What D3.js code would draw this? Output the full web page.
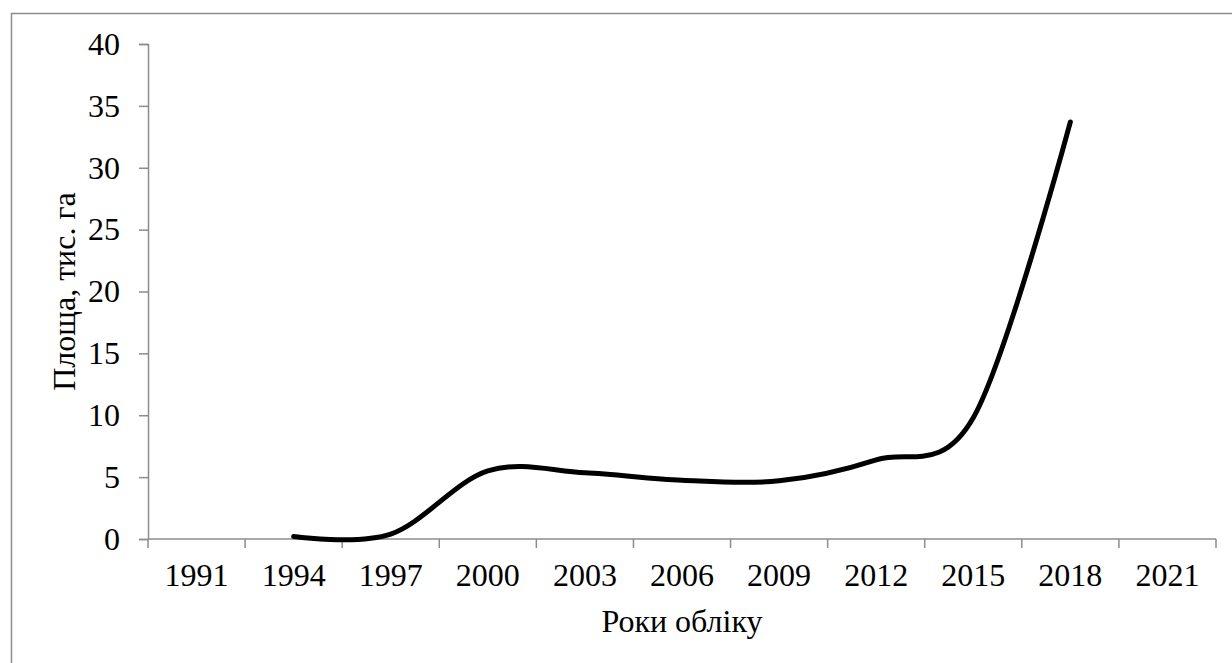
<!DOCTYPE html>
<html>
<head>
<meta charset="utf-8">
<script src="https://cdn.jsdelivr.net/npm/d3@7"></script>
<style>
html, body { margin: 0; padding: 0; background: #fff; }
svg { display: block; }
text { font-family: "Times New Roman", "Liberation Serif", serif; fill: #000; }
</style>
</head>
<body>
<svg id="chart" width="1232" height="663"></svg>
<script>
const categories = ["1991", "1994", "1997", "2000", "2003", "2006", "2009", "2012", "2015", "2018", "2021"];
const years = ["1994", "1997", "2000", "2003", "2006", "2009", "2012", "2015", "2018"];
const values = [0.2, 0.4, 5.5, 5.35, 4.75, 4.7, 6.4, 9.8, 33.7];
const yTicks = [0, 5, 10, 15, 20, 25, 30, 35, 40];
const yTitle = "Площа, тис. га";
const xTitle = "Роки обліку";

const svg = d3.select("#chart");
const W = 1232, H = 663;
const m = { left: 148, right: 1216, top: 44, bottom: 539 };

// outer chart border (cropped: only top and left visible)
svg.append("rect")
  .attr("x", 11.5).attr("y", 13.5)
  .attr("width", W + 20).attr("height", H + 20)
  .attr("fill", "none").attr("stroke", "#8c8c8c").attr("stroke-width", 1.5);

const x = d3.scaleBand().domain(categories).range([m.left, m.right]).padding(0);
const y = d3.scaleLinear().domain([0, 40]).range([m.bottom, m.top]);

const axisColor = "#8c8c8c";

// Y axis
const yAxis = svg.append("g")
  .attr("transform", `translate(${m.left},0)`)
  .call(d3.axisLeft(y).tickValues(yTicks).tickSize(9).tickPadding(19).tickFormat(d3.format("d")));
yAxis.selectAll("path, line").attr("stroke", axisColor).attr("stroke-width", 1.5);
yAxis.selectAll("text").style("font-size", "32px").attr("font-family", null).attr("fill", "#000");

// X axis: ticks at category boundaries, labels centered in categories
const xAxis = svg.append("g")
  .attr("transform", `translate(0,${m.bottom})`)
  .call(d3.axisBottom(x).tickSize(0).tickPadding(24));
xAxis.select("path.domain").attr("stroke", axisColor).attr("stroke-width", 1.5)
  .attr("d", `M${m.left},0H${m.right}`);
xAxis.selectAll("text").style("font-size", "32px").attr("font-family", null).attr("fill", "#000");

const bounds = categories.map(c => x(c)).concat([x(categories[categories.length - 1]) + x.bandwidth()]);
svg.append("g").selectAll("line").data(bounds).join("line")
  .attr("x1", d => d).attr("x2", d => d)
  .attr("y1", m.bottom).attr("y2", m.bottom + 9)
  .attr("stroke", axisColor).attr("stroke-width", 1.5);

// line
const line = d3.line()
  .x((d, i) => x(years[i]) + x.bandwidth() / 2)
  .y(d => y(d))
  .curve(d3.curveCardinal.tension(0));

svg.append("path")
  .datum(values)
  .attr("d", line)
  .attr("fill", "none")
  .attr("stroke", "#000")
  .attr("stroke-width", 5)
  .attr("stroke-linecap", "round")
  .attr("stroke-linejoin", "round");

// titles
svg.append("text")
  .attr("transform", `translate(75,${(m.top + m.bottom) / 2}) rotate(-90)`)
  .attr("text-anchor", "middle")
  .style("font-size", "32px")
  .text(yTitle);

svg.append("text")
  .attr("x", (m.left + m.right) / 2)
  .attr("y", 632)
  .attr("text-anchor", "middle")
  .style("font-size", "32px")
  .text(xTitle);
</script>
</body>
</html>
